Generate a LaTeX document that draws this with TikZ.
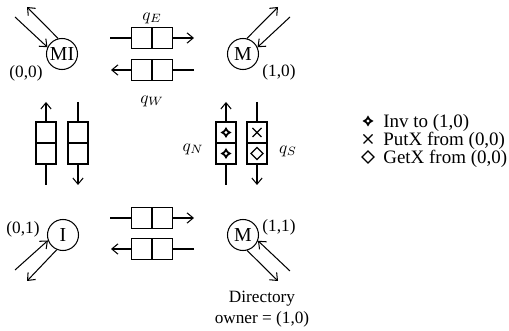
\documentclass[tikz,border=0pt]{standalone}
\usepackage{fontspec}
\setmainfont{Liberation Serif}
\usetikzlibrary{arrows.meta}
\begin{document}
\begin{tikzpicture}[x=0.58pt,y=-0.58pt,
  every node/.style={font=\fontsize{10}{12.2}\selectfont},
  proc/.style={circle,draw,line width=0.6pt,minimum size=18pt,inner sep=0pt,font=\fontsize{11.5}{13}\selectfont},
  arr/.style={-{Straight Barb[length=3.6pt,width=6pt]},line width=0.6pt},
  ln/.style={line width=0.6pt},
  hq/.style={draw,line width=0.75pt,minimum width=23.8pt,minimum height=12.2pt,inner sep=0pt,
    path picture={\draw[line width=1.1pt] (path picture bounding box.north) -- (path picture bounding box.south);}},
  vq/.style={draw,line width=0.75pt,minimum width=11.6pt,minimum height=24.4pt,inner sep=0pt,
    path picture={\draw[line width=1pt] (path picture bounding box.west) -- (path picture bounding box.east);}},
  lbl/.style={inner sep=0pt},
  leg/.style={inner sep=0pt,anchor=west,font=\fontsize{11}{13}\selectfont},
  invsym/.pic={\fill (0,-5.5)--(2.1,-2.1)--(5.5,0)--(2.1,2.1)--(0,5.5)--(-2.1,2.1)--(-5.5,0)--(-2.1,-2.1)--cycle;
               \fill[white] (0,-1.6)--(1.6,0)--(0,1.6)--(-1.6,0)--cycle;},
  xsym/.pic={\draw[line width=0.65pt] (-4.5,-4.5)--(4.5,4.5) (-4.5,4.5)--(4.5,-4.5);},
  dsym/.pic={\draw[line width=0.8pt] (0,-6)--(6,0)--(0,6)--(-6,0)--cycle;}
]
\useasboundingbox (0,0) rectangle (509,331);

% processors
\node[proc] (MI) at (62,54) {MI};
\node[proc] (M10) at (243,54) {M};
\node[proc] (I) at (63,235) {I};
\node[proc] (M11) at (243,235) {M};

\node[lbl] (l00) at (26,73) {(0,0)};
\node[lbl] (l10) at (279,72) {(1,0)};
\node[lbl] (l01) at (23,229) {(0,1)};
\node[lbl] (l11) at (279,227) {(1,1)};

% processor arrows
\coordinate (a1) at (15,17); \coordinate (a2) at (27,7);
\draw[arr] (a1) -- (MI.155);
\draw[arr] (MI.104) -- (a2);
\coordinate (b1) at (278,7); \coordinate (b2) at (290,17);
\draw[arr] (M10.76) -- (b1);
\draw[arr] (b2) -- (M10.25);
\coordinate (c1) at (15,270); \coordinate (c2) at (27,281);
\draw[arr] (c1) -- (I.200);
\draw[arr] (I.247) -- (c2);
\coordinate (d1) at (278,281); \coordinate (d2) at (290,271);
\draw[arr] (M11.285) -- (d1);
\draw[arr] (d2) -- (M11.339);

% horizontal queues top
\node[hq] (qE) at (152,38) {};
\coordinate (qEi) at (110,38); \coordinate (qEo) at (194,38);
\draw[ln] (qEi) -- (qE.west); \draw[arr] (qE.east) -- (qEo);
\node[hq] (qW) at (152,70) {};
\coordinate (qWi) at (194,70); \coordinate (qWo) at (111,70);
\draw[ln] (qWi) -- (qW.east); \draw[arr] (qW.west) -- (qWo);
\node[lbl] (tqE) at (152,18) {$q_E$};
\node[lbl] (tqW) at (152,101) {$q_W$};

% horizontal queues bottom
\node[hq] (bE) at (152,218) {};
\coordinate (bEi) at (110,218); \coordinate (bEo) at (194,218);
\draw[ln] (bEi) -- (bE.west); \draw[arr] (bE.east) -- (bEo);
\node[hq] (bW) at (152,249) {};
\coordinate (bWi) at (194,249); \coordinate (bWo) at (111,249);
\draw[ln] (bWi) -- (bW.east); \draw[arr] (bW.west) -- (bWo);

% vertical queues left
\node[vq] (lN) at (46,143) {};
\coordinate (lNi) at (46,185); \coordinate (lNo) at (46,102);
\draw[ln] (lNi) -- (lN.south); \draw[arr] (lN.north) -- (lNo);
\node[vq] (lS) at (78,143) {};
\coordinate (lSi) at (78,102); \coordinate (lSo) at (78,185);
\draw[ln] (lSi) -- (lS.north); \draw[arr] (lS.south) -- (lSo);

% vertical queues right
\node[vq] (qN) at (226,143) {};
\coordinate (qNi) at (226,185); \coordinate (qNo) at (226,102);
\draw[ln] (qNi) -- (qN.south); \draw[arr] (qN.north) -- (qNo);
\node[vq] (qS) at (257,143) {};
\coordinate (qSi) at (257,102); \coordinate (qSo) at (257,185);
\draw[ln] (qSi) -- (qS.north); \draw[arr] (qS.south) -- (qSo);
\node[lbl] (tqN) at (193,149) {$q_N$};
\node[lbl] (tqS) at (288,151) {$q_S$};

\pic at (226,132.5) {invsym};
\pic at (226,153.5) {invsym};
\pic at (257,132.5) {xsym};
\pic at (257,153.5) {dsym};

% legend
\pic at (368,121) {invsym};
\pic at (368,139) {xsym};
\pic at (368,157) {dsym};
\node[leg] (g1) at (383,123) {Inv to (1,0)};
\node[leg] (g2) at (383,141) {PutX from (0,0)};
\node[leg] (g3) at (383,159) {GetX from (0,0)};

% directory
\node[lbl,align=center,font=\fontsize{10}{12.4}\selectfont] (dir) at (262,309) {Directory\\owner = (1,0)};
\end{tikzpicture}
\end{document}
